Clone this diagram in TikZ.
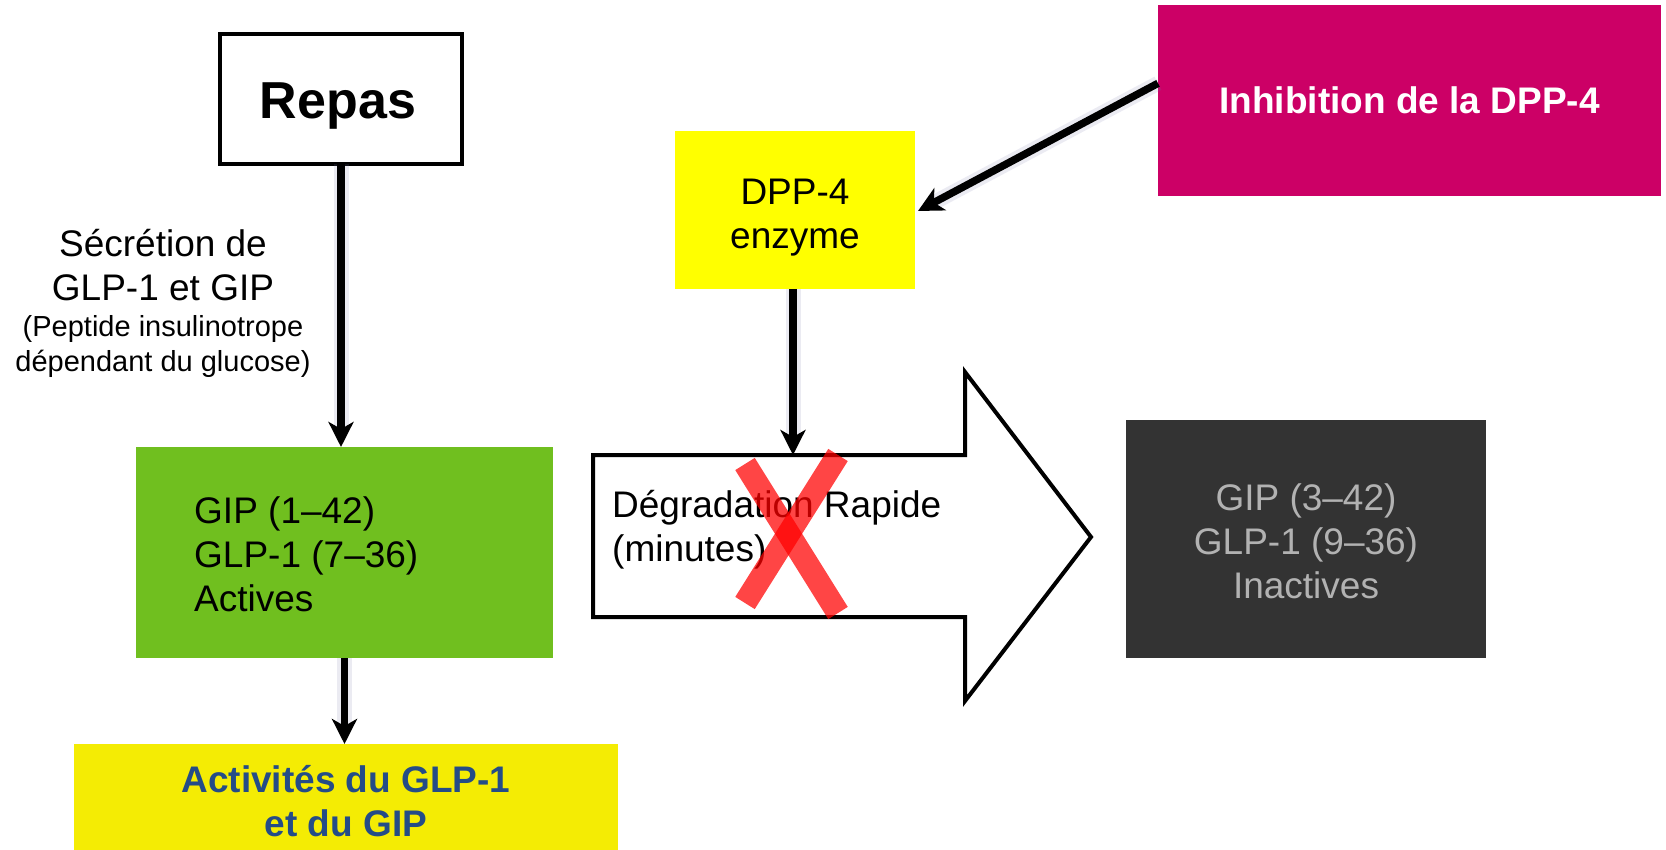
\documentclass[tikz,border=0pt]{standalone}
\usepackage{fontspec}
\setmainfont{Liberation Sans}
\usetikzlibrary{arrows.meta,calc}
\definecolor{cgreen}{RGB}{112,191,31}
\definecolor{cyel}{RGB}{255,255,0}
\definecolor{cyeltwo}{RGB}{244,236,4}
\definecolor{cmag}{RGB}{204,0,102}
\definecolor{cdark}{RGB}{51,51,51}
\definecolor{cgraytxt}{RGB}{178,178,178}
\definecolor{cblue}{RGB}{36,76,135}
\definecolor{cshadow}{RGB}{120,120,170}
\newcommand\myfs[2]{\fontsize{#1}{#2}\selectfont}
\begin{document}
\begin{tikzpicture}[x=1pt,y=-1pt,
  boxnode/.style={rectangle, inner sep=0pt, outer sep=0pt},
  bodytxt/.style={font=\myfs{37}{44}},
  conn/.style={line width=7.5pt, -{Stealth[length=25pt,width=25pt,inset=7pt]},
    preaction={draw=cshadow, line width=15pt, opacity=0.15, -, shorten >=17pt}},
  xstroke/.style={line width=23pt, draw=red, draw opacity=0.73, line cap=butt}
]
\useasboundingbox (0,0) rectangle (1666,850);

% boxes
\node[boxnode, draw, line width=3.5pt, minimum width=242pt, minimum height=130pt] (repas) at (341,99) {};
\node[font=\bfseries\myfs{52}{60}] (repastxt) at ($(repas.center)+(-3,7)$) {Repas};
\node[boxnode, fill=cgreen, minimum width=417pt, minimum height=211pt] (green) at (344.5,552.5) {};
\node[anchor=west, align=left, inner sep=0pt, bodytxt] (greentxt) at (194,554.5)
      {GIP (1–42)\\GLP-1 (7–36)\\Actives};
\node[boxnode, fill=cyeltwo, minimum width=544pt, minimum height=114pt, align=center,
      text=cblue, font=\bfseries\myfs{37}{44}] (act) at (346,801)
      {Activités du GLP-1\\et du GIP};
\node[boxnode, fill=cyel, minimum width=240pt, minimum height=158pt] (dpp) at (795,210) {};
\node[align=center, bodytxt] (dpptxt) at ($(dpp.center)+(0,8)$) {DPP-4\\enzyme};
\node[boxnode, fill=cmag, minimum width=503pt, minimum height=191pt,
      text=white, font=\bfseries\myfs{37}{44}] (inhib) at (1409.5,100.5) {Inhibition de la DPP-4};
\node[boxnode, fill=cdark, minimum width=360pt, minimum height=238pt] (inact) at (1306,539) {};
\node[align=center, text=cgraytxt, bodytxt] (inacttxt) at (1306,541) {GIP (3–42)\\GLP-1 (9–36)\\Inactives};

% side text
\node[align=center, bodytxt] (secr) at (163,265) {Sécrétion de\\GLP-1 et GIP};
\node[align=center, font=\myfs{29}{35}] (pept) at (163,346.5) {(Peptide insulinotrope\\dépendant du glucose)};

% block arrow
\draw[line width=4pt, fill=white, line join=miter]
  (593,455) -- (965,455) -- (965,372) -- (1091,537) -- (965,701) -- (965,617) -- (593,617) -- cycle;
\coordinate (shafttop) at (793,455);
\node[anchor=west, align=left, inner sep=0pt, bodytxt] (degr) at (612,530) {Dégradation Rapide\\(minutes)};

% connectors
\draw[conn] (repas.south) -- (repas.south |- green.north);
\draw[conn] (green.south) -- (green.south |- act.north);
\draw[conn] (shafttop |- dpp.south) -- (shafttop);
\draw[conn] ($(inhib.north west)!0.41!(inhib.south west)$) -- ($(dpp.east)+(3,1)$);

% red cross
\draw[xstroke] (745,464) -- (838,613);
\draw[xstroke] (838,455) -- (745,603);
\end{tikzpicture}
\end{document}
